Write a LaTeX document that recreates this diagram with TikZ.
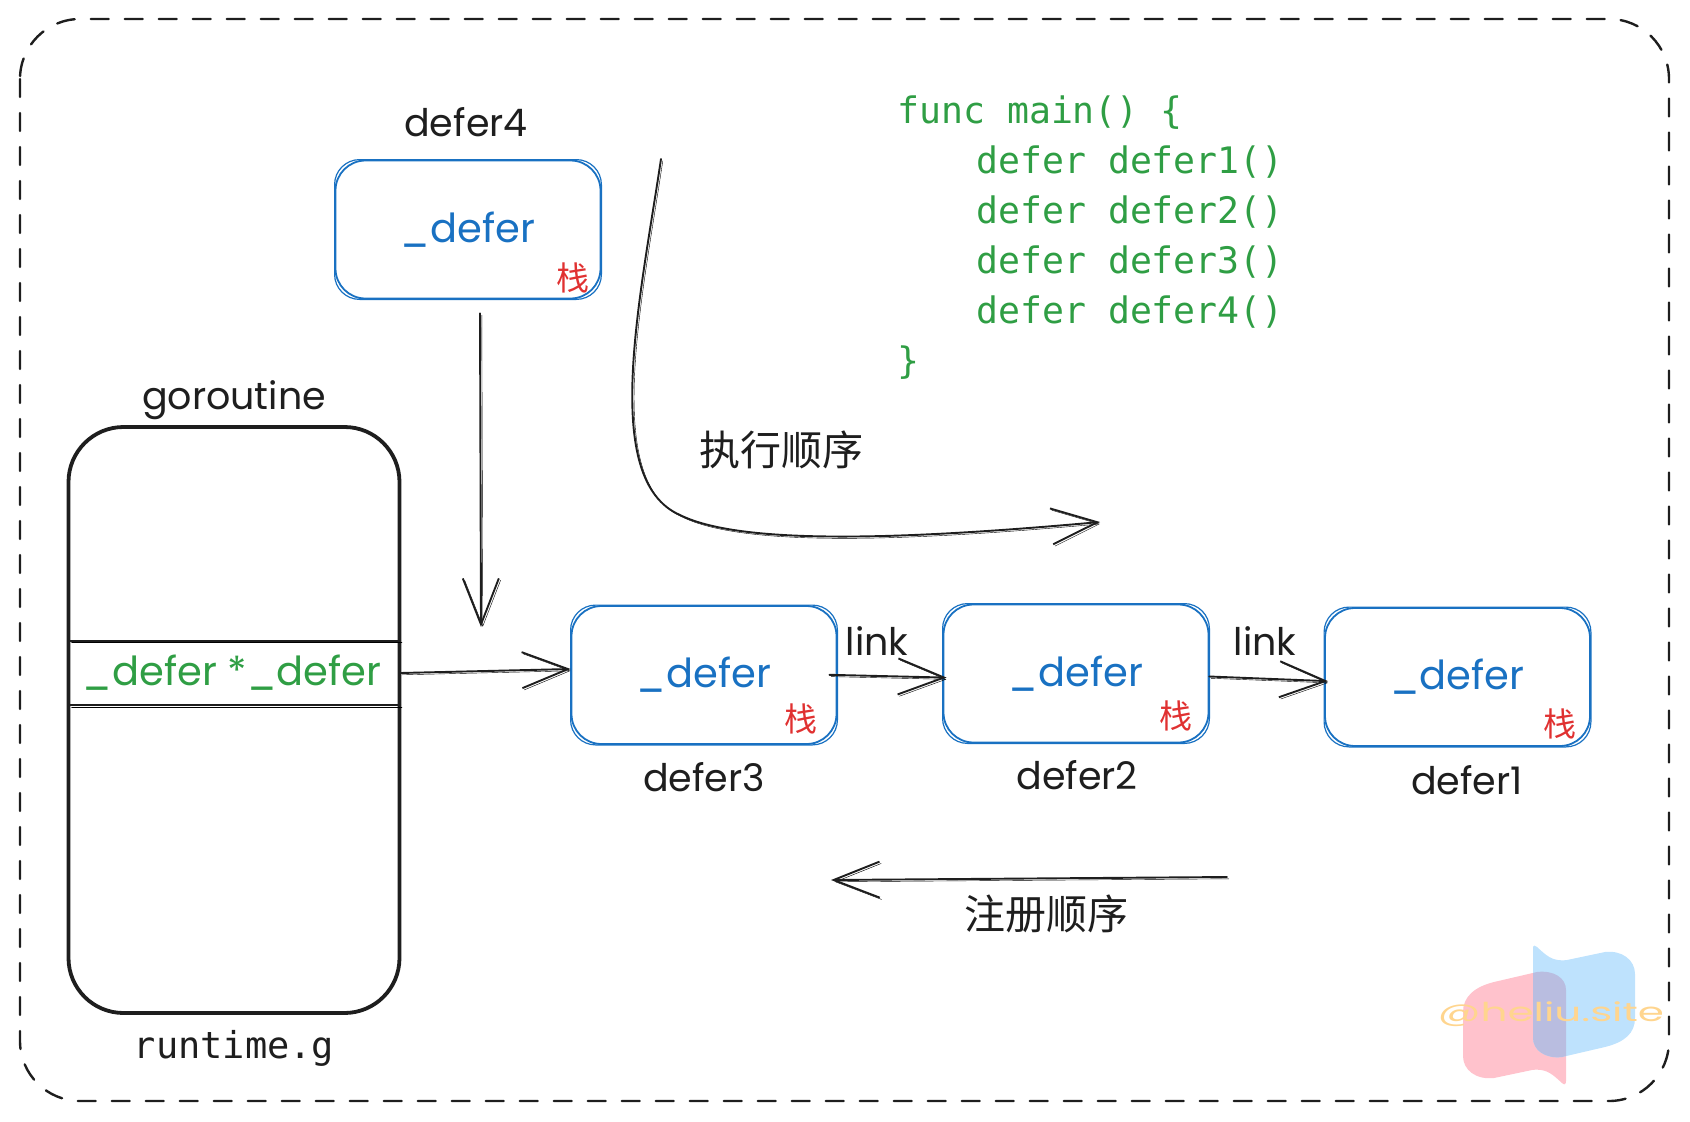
\documentclass[tikz,border=0pt]{standalone}
\usepackage{fontspec}
\setmainfont{Poppins}
\setmonofont{DejaVu Sans Mono}
\newfontfamily\cjk{Noto Sans CJK SC}
\usetikzlibrary{arrows.meta}
\definecolor{ink}{HTML}{1E1E1E}
\definecolor{deferblue}{HTML}{1971C2}
\definecolor{codegreen}{HTML}{2F9E44}
\definecolor{stackred}{HTML}{E03131}
\definecolor{flagred}{HTML}{FFC2CC}
\definecolor{flagblue}{HTML}{BEE2FD}
\definecolor{flagmix}{HTML}{B9BDE0}
\definecolor{sitename}{HTML}{FFD58E}
\newcommand{\bluepath}{(1533,947)--(1533,1038) .. controls (1533,1050) and (1545,1059) .. (1562,1057)--(1605,1047) .. controls (1625,1042) and (1635,1033) .. (1635,1018)--(1635,974) .. controls (1635,960) and (1622,950) .. (1605,952)--(1567,960) .. controls (1552,962) and (1546,955) .. (1537,947) .. controls (1535,945) and (1533,945) .. (1533,947)--cycle}
\newcommand{\redpath}{(1566,1081)--(1566,990) .. controls (1566,978) and (1554,970) .. (1537,972)--(1494,982) .. controls (1474,987) and (1463,997) .. (1463,1012)--(1463,1056) .. controls (1463,1070) and (1476,1080) .. (1494,1078)--(1532,1070) .. controls (1547,1068) and (1553,1075) .. (1562,1083) .. controls (1564,1085) and (1566,1085) .. (1566,1081)--cycle}
\tikzset{
	sketch/.style={preaction={draw,transform canvas={xshift=1.8pt,yshift=-1.8pt}}},
	hand/.style={font=\fontsize{38}{42}\selectfont,text=ink,inner sep=0pt},
	defernode/.style={draw=deferblue,line width=1.8pt,rounded corners=30pt,minimum width=265pt,minimum height=138pt,inner sep=0pt,text=deferblue,font=\fontsize{40}{44}\selectfont},
	stacknode/.style={text=stackred,inner sep=0pt,font=\cjk\fontsize{33}{34}\selectfont},
	link/.style={draw=ink,line width=1.9pt,-{Straight Barb[length=46pt,width=36pt]},sketch},
}
\begin{document}
\begin{tikzpicture}[x=1pt,y=-1pt,line join=round,line cap=round]
\useasboundingbox (0,0) rectangle (1690,1122);
\path (468,229.5) coordinate (D4) (704,675) coordinate (D3) (1076,673.5) coordinate (D2) (1457.5,677) coordinate (D1)
	(661,159) coordinate (E_s) (1100,522) coordinate (E_e) (1227,877) coordinate (R_s) (831,880) coordinate (R_e) (481,627) coordinate (G_e);
	\draw[ink,line width=2.4pt,dash pattern=on 18pt off 16pt,rounded corners=60pt] (20,19) rectangle (1669,1101);
% watermark
	\fill[flagred] \redpath;
	\fill[flagblue] \bluepath;
	\begin{scope}
	\clip \redpath;
	\fill[flagmix] \bluepath;
	\end{scope}
	\node (site) at (1551,1014) [text=sitename,inner sep=0pt,xscale=1.62,font=\fontsize{26}{30}\selectfont] {@heliu.site};
% goroutine
	\node (goroutine) at (234,720) [draw=ink,line width=3.8pt,rounded corners=55pt,minimum width=331pt,minimum height=586pt] {};
	\draw[ink,line width=2.2pt] ([xshift=-2pt,yshift=-55pt]goroutine.north east)--([xshift=-2pt,yshift=55pt]goroutine.south east);
	\draw[ink,line width=2.2pt] ([xshift=2pt,yshift=-55pt]goroutine.north west)--([xshift=2pt,yshift=55pt]goroutine.south west);
	\node (gotitle) at (234,400) [hand] {goroutine};
	\node (gotype) at (234,1048) [hand,font=\ttfamily\fontsize{37}{40}\selectfont] {runtime.g};
	\node (field) at (235,673) [minimum width=330pt,minimum height=64pt,inner sep=0pt,text=codegreen,xshift=0pt,font=\fontsize{40}{44}\selectfont] {\hspace*{-6pt}\_defer *\_defer};
	\draw[ink,line width=1.6pt,sketch] (field.north west)--(field.north east);
	\draw[ink,line width=1.6pt,sketch] (field.south west)--(field.south east);
% defer boxes
\foreach \d/\c/\t/\x/\y/\a/\b in {deferfour/D4/defer4/466/122/-28/-21,deferthree/D3/defer3/704/777/-36.5/-25.5,defertwo/D2/defer2/1077/775/-33/-27.5,deferone/D1/defer1/1467/780/-31/-23}{
	\node (\d) at (\c) [defernode] {\_defer};
	\draw[deferblue,line width=1.2pt,rounded corners=25pt] (\d.north west) rectangle (\d.south east);
	\node (\d stack) at ([shift={(\a,\b)}]\d.south east) [stacknode] {栈};
	\node (\d name) at (\x,\y) [hand] {\t};
}
% code
	\node (code) at (897,113.5) [anchor=north west,yshift=18pt,inner sep=0pt,align=left,text=codegreen,font=\ttfamily\fontsize{36.5}{50}\selectfont] {func main() \{\\
	\hspace*{79pt}defer defer1()\\
	\hspace*{79pt}defer defer2()\\
	\hspace*{79pt}defer defer3()\\
	\hspace*{79pt}defer defer4()\\
	\}};
% arrows
	\draw[link] ([xshift=12pt,yshift=-14pt]deferfour.south)--(G_e);
	\draw[link] (field.east)--([yshift=6pt]deferthree.west);
	\draw[link,shorten <=-8pt,shorten >=-4pt] (deferthree.east)--([yshift=-4pt]defertwo.west);
	\draw[link,shorten >=-4pt] ([yshift=-3pt]defertwo.east)--([yshift=-4pt]deferone.west);
	\draw[link] (E_s) .. controls (640,300) and (600,480) .. (680,515) .. controls (740,545) and (900,540) .. (E_e);
	\draw[link] (R_s)--(R_e);
	\node (linka) at (877,641) [hand] {link};
	\node (linkb) at (1265,641) [hand] {link};
	\node (runorder) at (781,450) [hand,font=\cjk\fontsize{41}{44}\selectfont] {执行顺序};
	\node (regorder) at (1046,914) [hand,font=\cjk\fontsize{41}{44}\selectfont] {注册顺序};
\end{tikzpicture}
\end{document}
